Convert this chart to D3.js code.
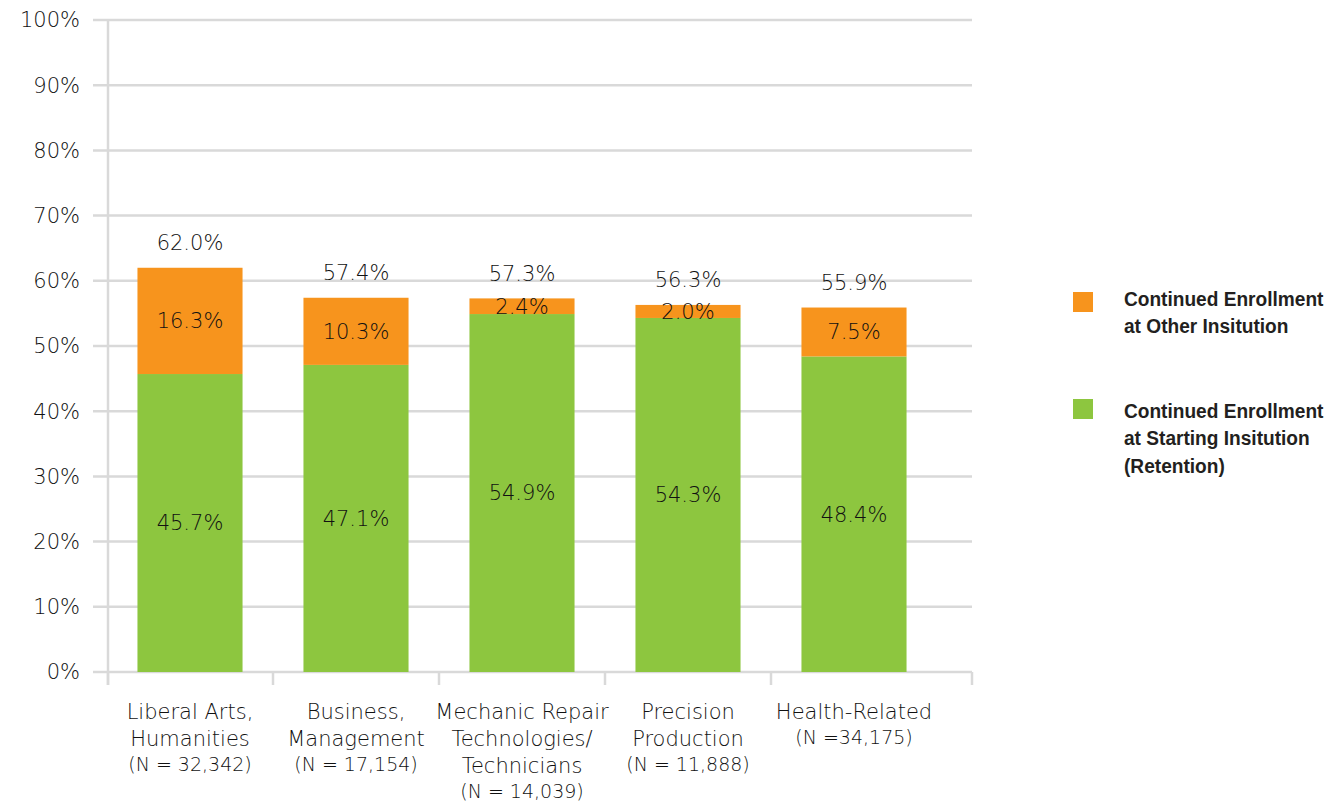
<!DOCTYPE html>
<html><head><meta charset="utf-8">
<script src="https://cdn.jsdelivr.net/npm/d3@7"></script>
<style>
body{margin:0;background:#fff;}
text{font-family:"DejaVu Sans",sans-serif;font-weight:200;fill:#111;}
.leg{font-family:"Liberation Sans",Arial,sans-serif;font-weight:700;fill:#231f20;}
</style></head>
<body><svg id="c" width="1342" height="803"></svg>
<script>
const categories = ["Liberal Arts, Humanities","Business, Management","Mechanic Repair Technologies/ Technicians","Precision Production","Health-Related"];
const categoryLines = [["Liberal Arts,","Humanities"],["Business,","Management"],["Mechanic Repair","Technologies/","Technicians"],["Precision","Production"],["Health-Related"]];
const nLabels = ["(N = 32,342)","(N = 17,154)","(N = 14,039)","(N = 11,888)","(N =34,175)"];
const retention = [45.7, 47.1, 54.9, 54.3, 48.4];
const otherInst = [16.3, 10.3, 2.4, 2.0, 7.5];
const totals = [62.0, 57.4, 57.3, 56.3, 55.9];
const yTicks = [0,10,20,30,40,50,60,70,80,90,100];
const seriesNames = [["Continued Enrollment","at Other Insitution"],["Continued Enrollment","at Starting Insitution","(Retention)"]];
const colors = {other:"#f7941d", ret:"#8dc63f", grid:"#d9d9d9"};

const svg = d3.select("#c");
const x = d3.scaleBand().domain(categories).range([107, 937]).paddingInner(0.367).paddingOuter(0.1835);
const y = d3.scaleLinear().domain([0,100]).range([672, 20]);
const axisLeftX = 108, axisRightX = 972;

svg.append("g").selectAll("line").data(yTicks).join("line")
  .attr("x1", 93).attr("x2", axisRightX)
  .attr("y1", d=>y(d)).attr("y2", d=>y(d))
  .attr("stroke", colors.grid).attr("stroke-width", 2.5);
svg.append("line").attr("x1",axisLeftX).attr("x2",axisLeftX).attr("y1",y(100)).attr("y2",685)
  .attr("stroke",colors.grid).attr("stroke-width",2.5);
const tickXs = categories.map(c => x(c) - x.step()*x.paddingInner()/2).concat([axisRightX]);
tickXs[0] = axisLeftX;
svg.append("g").selectAll("line").data(tickXs).join("line")
  .attr("x1",d=>d).attr("x2",d=>d).attr("y1",672).attr("y2",685)
  .attr("stroke",colors.grid).attr("stroke-width",2.5);
svg.append("g").selectAll("text").data(yTicks).join("text")
  .attr("x", 80).attr("y", d=>y(d)).attr("dy","0.35em").attr("text-anchor","end")
  .attr("font-size",21).text(d=>d+"%");

const g = svg.append("g");
g.selectAll("rect.ret").data(categories).join("rect").attr("class","ret")
  .attr("x", d=>x(d)).attr("width", x.bandwidth())
  .attr("y", (d,i)=>y(retention[i])).attr("height",(d,i)=>y(0)-y(retention[i]))
  .attr("fill", colors.ret);
g.selectAll("rect.oth").data(categories).join("rect").attr("class","oth")
  .attr("x", d=>x(d)).attr("width", x.bandwidth())
  .attr("y", (d,i)=>y(retention[i]+otherInst[i])).attr("height",(d,i)=>y(retention[i])-y(retention[i]+otherInst[i]))
  .attr("fill", colors.other);

const cx = d => x(d) + x.bandwidth()/2;
g.selectAll("text.rl").data(categories).join("text")
  .attr("x", cx).attr("y",(d,i)=>y(retention[i]/2)).attr("dy","0.35em")
  .attr("text-anchor","middle").attr("font-size",21).text((d,i)=>retention[i].toFixed(1)+"%");
g.selectAll("text.ol").data(categories).join("text")
  .attr("x", cx).attr("y",(d,i)=>y(retention[i]+otherInst[i]/2)).attr("dy","0.35em")
  .attr("text-anchor","middle").attr("font-size",21).text((d,i)=>otherInst[i].toFixed(1)+"%");
g.selectAll("text.tl").data(categories).join("text")
  .attr("x", cx).attr("y",(d,i)=>y(totals[i])-25).attr("dy","0.35em")
  .attr("text-anchor","middle").attr("font-size",21).text((d,i)=>totals[i].toFixed(1)+"%");

categories.forEach((c,i)=>{
  const t = svg.append("text").attr("x", cx(c)).attr("y", 719).attr("text-anchor","middle");
  categoryLines[i].forEach((ln,j)=>{
    t.append("tspan").attr("x",cx(c)).attr("dy", j===0?0:27).attr("font-size",21).text(ln);
  });
  t.append("tspan").attr("x",cx(c)).attr("dy",25).attr("font-size",19).text(nLabels[i]);
});

const legY = [292, 399];
const legTextY = [306, 418];
const legColors = [colors.other, colors.ret];
legY.forEach((ly,i)=>{
  svg.append("rect").attr("x",1073).attr("y",ly).attr("width",20).attr("height",20).attr("fill",legColors[i]);
  const t = svg.append("text").attr("class","leg")
    .attr("transform",`translate(1124,${legTextY[i]}) scale(0.91,1)`).attr("font-size",21);
  seriesNames[i].forEach((ln,j)=>t.append("tspan").attr("x",0).attr("dy",j===0?0:27.5).text(ln));
});
</script></body></html>
